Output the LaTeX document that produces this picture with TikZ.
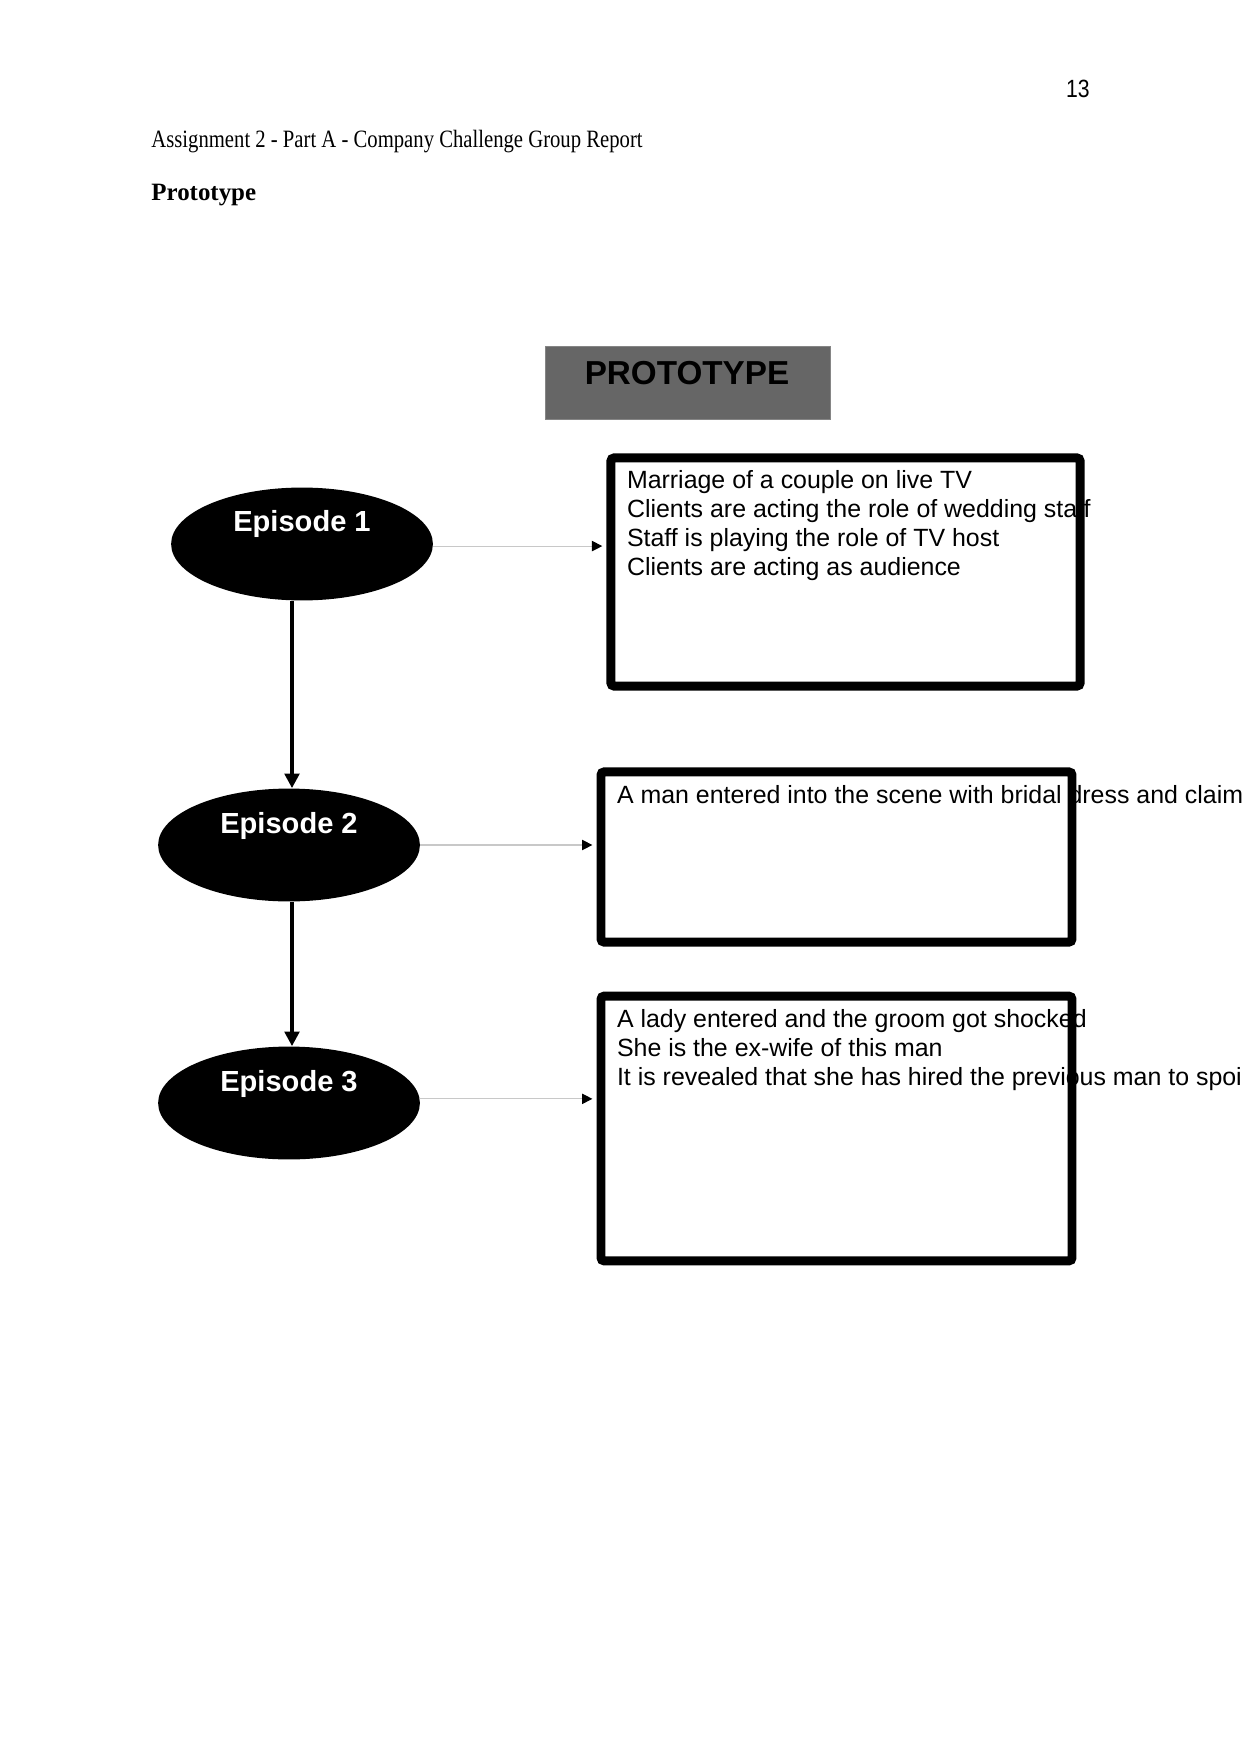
\documentclass[tikz,border=0pt]{standalone}
\usepackage{fontspec}
\setmainfont{Liberation Serif}
\setsansfont{Liberation Sans}
\newfontfamily\headfont[FakeStretch=0.83]{Liberation Serif}
\newfontfamily\pagenumfont[FakeStretch=0.85]{Liberation Sans}
\usetikzlibrary{shapes.geometric,arrows.meta,positioning,calc}
\definecolor{titlegray}{RGB}{102,102,102}
\definecolor{linkgray}{RGB}{200,200,200}

\begin{document}
\begin{tikzpicture}[
    x=0.16922mm, y=-0.16922mm,
    episode/.style={ellipse, fill=black, minimum width=44.3mm, minimum height=19.1mm, inner sep=0pt},
    eplabel/.style={anchor=base, text=white, inner sep=0pt, font=\sffamily\bfseries\fontsize{14}{16}\selectfont},
    scenebox/.style={rectangle, draw, line width=4.3pt, rounded corners=1.5pt, inner sep=0pt},
    scenetext/.style={anchor=north west, align=left, inner sep=0pt, font=\sffamily\fontsize{12}{13.9}\selectfont},
    flow/.style={-{Triangle[length=7pt,width=7pt]}, line width=1.7pt},
    link/.style={-{Triangle[length=5pt,width=5pt,color=black]}, draw=linkgray, line width=0.5pt, shorten >=2pt}
]
    \useasboundingbox (0,0) rectangle (1241,1754);
    \clip (0,0) rectangle (1241,1754);

    % Page head
    \node[anchor=base east, inner sep=0pt, font=\pagenumfont\fontsize{12}{14}\selectfont] (pagenum) at (1090,98) {13};
    \node[anchor=base west, inner sep=0pt, font=\headfont\fontsize{12}{14}\selectfont] (header) at (151,147.5) {Assignment 2 - Part A - Company Challenge Group Report};
    \node[anchor=base west, inner sep=0pt, font=\bfseries\fontsize{12}{14}\selectfont] (section) at (151,201) {Prototype};

    % Title
    \node[rectangle, fill=titlegray, draw=titlegray!80!white, minimum width=48.2mm, minimum height=12.35mm] (titlebox) at (687.5,382.5) {};
    \node[anchor=base, inner sep=0pt, font=\sffamily\bfseries\fontsize{16}{19}\selectfont] (title) at (687,385) {PROTOTYPE};

    % Episodes
    \node[episode] (ep1) at (302,544) {};
    \node[episode] (ep2) at (289,845) {};
    \node[episode] (ep3) at (289,1103) {};
    \node[eplabel] (ep1t) at (302,532) {Episode 1};
    \node[eplabel] (ep2t) at (289,833) {Episode 2};
    \node[eplabel] (ep3t) at (289,1091) {Episode 3};

    % Scene texts (borders drawn over them)
    \node[scenetext] (text1) at (626.6,470) {Marriage of a couple on live TV\\Clients are acting the role of wedding staff\\Staff is playing the role of TV host\\Clients are acting as audience};
    \node[scenetext] (text2) at (616.6,785) {A man entered into the scene with bridal dress and claim};
    \node[scenetext] (text3) at (616.6,1009) {A lady entered and the groom got shocked\\She is the ex-wife of this man\\It is revealed that she has hired the previous man to spoi};

    \node[scenebox, minimum width=79.4mm, minimum height=38.6mm] (box1) at (845.5,572) {};
    \node[scenebox, minimum width=79.7mm, minimum height=28.8mm] (box2) at (836.5,857) {};
    \node[scenebox, minimum width=79.7mm, minimum height=44.8mm] (box3) at (836.5,1128.5) {};

    \coordinate (spine) at (292,0);
    \draw[flow] (spine |- ep1.south) -- (spine |- ep2.north);
    \draw[flow] (spine |- ep2.south) -- (spine |- ep3.north);

    \draw[link] ([yshift=-1pt]ep1.east) -- ([yshift=-1pt]ep1.east -| box1.west);
    \draw[link] (ep2.east) -- (ep2.east -| box2.west);
    \draw[link] ([yshift=2pt]ep3.east) -- ([yshift=2pt]ep3.east -| box3.west);
\end{tikzpicture}
\end{document}
